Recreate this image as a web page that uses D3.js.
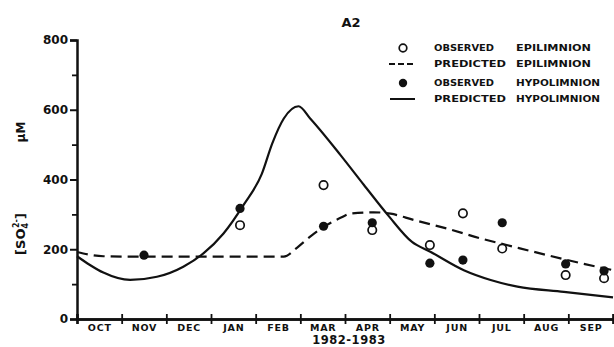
<!DOCTYPE html>
<html>
<head>
<meta charset="utf-8">
<script src="https://cdn.jsdelivr.net/npm/d3@7"></script>
<style>
  body { margin: 0; background: #fff; }
  svg { display: block; }
  text { font-family: "DejaVu Sans", "Liberation Sans", sans-serif; font-weight: bold; fill: #111; }
</style>
</head>
<body>
<svg id="chart"></svg>
<script>
// month offsets from 1 Oct 1982
var months = ['OCT', 'NOV', 'DEC', 'JAN', 'FEB', 'MAR', 'APR', 'MAY', 'JUN', 'JUL', 'AUG', 'SEP'];
var yTicks = [0, 200, 400, 600, 800];
var yMinor = [100, 300, 500, 700];

var obsEpiT = [3.65, 5.52, 6.61, 7.90, 8.64, 9.52, 10.94, 11.80];
var obsEpiV = [269, 384, 255, 212, 303, 202, 126, 117];

var obsHypoT = [1.50, 3.65, 5.52, 6.61, 7.90, 8.64, 9.52, 10.94, 11.80];
var obsHypoV = [183, 317, 266, 276, 160, 169, 276, 158, 138];

var predEpiT = [0, 0.59, 1.19, 2.5, 4.63, 4.93, 5.22, 5.52, 5.90, 6.12, 6.64, 7.02, 7.54, 8.29, 9.04, 9.78, 10.53, 11.28, 12];
var predEpiV = [192, 180, 179, 179, 179, 205, 236, 264, 290, 302, 306, 302, 284, 259, 231, 207, 183, 160, 140];

var predHypoT = [0, 0.29, 0.59, 1.19, 1.79, 2.38, 2.83, 3.28, 3.73, 4.14, 4.37, 4.63, 4.96, 5.22, 5.90, 6.42, 6.98, 7.50, 7.91, 8.66, 9.26, 9.86, 10.90, 12];
var predHypoV = [180, 155, 133, 112, 121, 150, 188, 245, 327, 417, 503, 575, 610, 575, 470, 385, 295, 221, 193, 140, 112, 93, 78, 62];

var width = 614, height = 347;
var svg = d3.select('#chart').attr('width', width).attr('height', height);

var x = d3.scaleLinear().domain([0, 12]).range([77, 613]);
var y = d3.scaleLinear().domain([0, 800]).range([319, 40]);

// title
svg.append('text').attr('x', 351).attr('y', 27).attr('text-anchor', 'middle')
	.attr('font-size', '13px').text('A2');

// y axis
var yAxis = svg.append('g').attr('transform', 'translate(' + x(0) + ',0)')
	.call(d3.axisLeft(y).tickValues(yTicks).tickSize(7).tickPadding(2));
yAxis.select('.domain').attr('stroke', '#111').attr('stroke-width', 2.5);
yAxis.selectAll('.tick line').attr('stroke', '#111').attr('stroke-width', 2);
yAxis.selectAll('.tick text').attr('font-size', '12px').attr('fill', '#111')
	.style('font-family', '"DejaVu Sans", sans-serif').style('font-weight', 'bold');

var yAxisMinor = svg.append('g').attr('transform', 'translate(' + x(0) + ',0)')
	.call(d3.axisLeft(y).tickValues(yMinor).tickSize(5).tickFormat(''));
yAxisMinor.select('.domain').remove();
yAxisMinor.selectAll('.tick line').attr('stroke', '#111').attr('stroke-width', 1.8);

// x axis: ticks crossing the line
var xTickVals = d3.range(0, 13);
[5, -5].forEach(function(s) {
	var g = svg.append('g').attr('transform', 'translate(0,' + y(0) + ')')
		.call(d3.axisBottom(x).tickValues(xTickVals).tickSize(s).tickFormat(''));
	g.select('.domain').attr('stroke', '#111').attr('stroke-width', 2.5);
	g.selectAll('.tick line').attr('stroke', '#111').attr('stroke-width', 1.8);
});

var xLabels = svg.append('g').attr('transform', 'translate(0,' + y(0) + ')')
	.call(d3.axisBottom(x).tickValues(d3.range(0.5, 12, 1)).tickSize(0).tickPadding(5)
		.tickFormat(function(d, i) { return months[i]; }));
xLabels.select('.domain').remove();
xLabels.selectAll('.tick text').attr('font-size', '9.5px').attr('fill', '#111')
	.attr('letter-spacing', '0.8px')
	.style('font-family', '"DejaVu Sans", sans-serif').style('font-weight', 'bold');

svg.append('text').attr('x', 349).attr('y', 344).attr('text-anchor', 'middle')
	.attr('font-size', '11.5px').attr('letter-spacing', '0.5px').text('1982-1983');

// y label
svg.append('text').attr('transform', 'translate(25,132) rotate(-90)')
	.attr('text-anchor', 'middle').attr('font-size', '12px').text('\u03bcM');
var ylab = svg.append('text').attr('transform', 'translate(25,234) rotate(-90)')
	.attr('text-anchor', 'middle').attr('font-size', '13px');
ylab.append('tspan').text('[SO');
ylab.append('tspan').attr('font-size', '8px').attr('dy', 3).text('4');
ylab.append('tspan').attr('font-size', '8px').attr('dx', -5).attr('dy', -9).text('2-');
ylab.append('tspan').attr('dy', 6).text(']');

// lines
var line = d3.line().curve(d3.curveMonotoneX)
	.x(function(d) { return x(d[0]); })
	.y(function(d) { return y(d[1]); });

svg.append('path').datum(d3.zip(predEpiT, predEpiV))
	.attr('d', line).attr('fill', 'none').attr('stroke', '#111')
	.attr('stroke-width', 2.2).attr('stroke-dasharray', '11,6');

svg.append('path').datum(d3.zip(predHypoT, predHypoV))
	.attr('d', line).attr('fill', 'none').attr('stroke', '#111')
	.attr('stroke-width', 2.2);

// observed points
svg.selectAll('.epi').data(d3.zip(obsEpiT, obsEpiV)).enter().append('circle')
	.attr('class', 'epi')
	.attr('cx', function(d) { return x(d[0]); })
	.attr('cy', function(d) { return y(d[1]); })
	.attr('r', 4.2).attr('fill', '#fff').attr('stroke', '#111').attr('stroke-width', 1.7);

svg.selectAll('.hypo').data(d3.zip(obsHypoT, obsHypoV)).enter().append('circle')
	.attr('class', 'hypo')
	.attr('cx', function(d) { return x(d[0]); })
	.attr('cy', function(d) { return y(d[1]); })
	.attr('r', 4.6).attr('fill', '#111');

// legend
var legRows = [
	{ a: 'OBSERVED', b: 'EPILIMNION', la: 60, lb: 75, y: 48 },
	{ a: 'PREDICTED', b: 'EPILIMNION', la: 72, lb: 75, y: 64 },
	{ a: 'OBSERVED', b: 'HYPOLIMNION', la: 60, lb: 84, y: 83 },
	{ a: 'PREDICTED', b: 'HYPOLIMNION', la: 72, lb: 84, y: 99 }
];
var leg = svg.append('g');
legRows.forEach(function(r) {
	leg.append('text').attr('x', 434).attr('y', r.y + 3).attr('font-size', '8px')
		.attr('textLength', r.la).attr('lengthAdjust', 'spacingAndGlyphs').text(r.a);
	leg.append('text').attr('x', 516).attr('y', r.y + 3).attr('font-size', '8px')
		.attr('textLength', r.lb).attr('lengthAdjust', 'spacingAndGlyphs').text(r.b);
});
leg.append('circle').attr('cx', 403).attr('cy', 48).attr('r', 3.8)
	.attr('fill', '#fff').attr('stroke', '#111').attr('stroke-width', 1.7);
leg.append('line').attr('x1', 389).attr('x2', 413).attr('y1', 64).attr('y2', 64)
	.attr('stroke', '#111').attr('stroke-width', 1.8).attr('stroke-dasharray', '6,3');
leg.append('circle').attr('cx', 403).attr('cy', 83).attr('r', 4.2).attr('fill', '#111');
leg.append('line').attr('x1', 390).attr('x2', 415).attr('y1', 99).attr('y2', 99)
	.attr('stroke', '#111').attr('stroke-width', 2);
</script>
</body>
</html>
